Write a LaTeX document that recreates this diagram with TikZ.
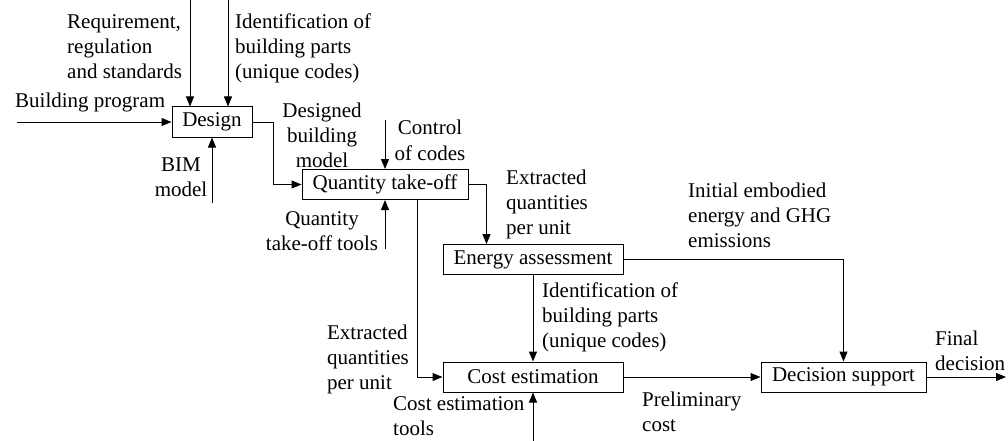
\documentclass[tikz,border=0pt]{standalone}
\usepackage{fontspec}
\setmainfont{Liberation Serif}
\usetikzlibrary{calc,arrows.meta}

\begin{document}
\begin{tikzpicture}[
    x=1pt, y=-1pt,
    font=\fontsize{21}{25}\selectfont,
    activity/.style={rectangle, draw=black, line width=1pt, minimum height=30pt, inner xsep=10pt, inner ysep=0pt, text centered},
    lbl/.style={inner sep=0pt, align=left},
    arrow/.style={line width=1pt,-{Triangle[length=10pt,width=8pt]}}
]
\useasboundingbox (0,0) rectangle (1008,441);

% ACTIVITIES
\node[activity, minimum width=80pt] (design) at (212,122) {Design};
\node[activity, minimum width=166pt] (qto) at (385,184.5) {Quantity take-off};
\node[activity, minimum width=180pt] (energy) at (533,259.5) {Energy assessment};
\node[activity, minimum width=180pt] (cost) at (533,377) {Cost estimation};
\node[activity, minimum width=165pt] (decision) at (843.5,377) {Decision support};

% Free ends of inputs and output
\coordinate (progIn) at (17,122);
\coordinate (reqIn) at (190,0);
\coordinate (idIn) at (228,0);
\coordinate (bimIn) at (212,203);
\coordinate (ctrlIn) at (385,120);
\coordinate (qtoolIn) at (385,249);
\coordinate (ctoolIn) at (533,441);
\coordinate (finalOut) at (1006,377);

% Arrows into Design
\draw[arrow] (progIn) -- (design.west);
\draw[arrow] (reqIn) -- (reqIn |- design.north);
\draw[arrow] (idIn) -- (idIn |- design.north);
\draw[arrow] (bimIn) -- (design.south);

% Arrows of quantity take-off
\draw[arrow] (design.east) -- ++(21,0) |- (qto.west);
\draw[arrow] (ctrlIn) -- (qto.north);
\draw[arrow] (qtoolIn) -- (qto.south);
\draw[arrow] (qto.east) -| ($(energy.north west)+(44,0)$);
\draw[arrow] ($(qto.south)+(32,0)$) |- (cost.west);

% Arrows of assessment and estimation
\draw[arrow] (energy.south) -- (cost.north);
\draw[arrow] (ctoolIn) -- (cost.south);
\draw[arrow] (energy.east) -| (decision.north);
\draw[arrow] (cost.east) -- (decision.west);
\draw[arrow] (decision.east) -- (finalOut);

% Labels (base = baseline of last line)
\node[lbl, anchor=base west] (reqTxt) at (67,79) {Requirement,\\regulation\\and standards};
\node[lbl, anchor=base west] (idTxt) at (235,79) {Identification of\\building parts\\(unique codes)};
\node[lbl, anchor=base west] (progTxt) at (15,107) {Building program};
\node[lbl, align=center, anchor=base] (dbmTxt) at (322,167) {Designed\\building\\model};
\node[lbl, align=center, anchor=base] (ctrlTxt) at (430,160) {Control\\of codes};
\node[lbl, align=center, anchor=base] (bimTxt) at (181,196) {BIM\\model};
\node[lbl, align=center, anchor=base] (qtoolTxt) at (322,250) {Quantity\\take-off tools};
\node[lbl, anchor=base west] (extTxtA) at (506,234) {Extracted\\quantities\\per unit};
\node[lbl, anchor=base west] (embTxt) at (688,247) {Initial embodied\\energy and GHG\\emissions};
\node[lbl, anchor=base west] (idTxtB) at (542,347) {Identification of\\building parts\\(unique codes)};
\node[lbl, anchor=base east] (extTxtB) at (409,389) {Extracted\\quantities\\per unit};
\node[lbl, anchor=base west] (ctoolTxt) at (393,435) {Cost estimation\\tools};
\node[lbl, anchor=base west] (prelTxt) at (642,431) {Preliminary\\cost};
\node[lbl, anchor=base west] (finalTxt) at (935,370) {Final\\decision};

\end{tikzpicture}
\end{document}
